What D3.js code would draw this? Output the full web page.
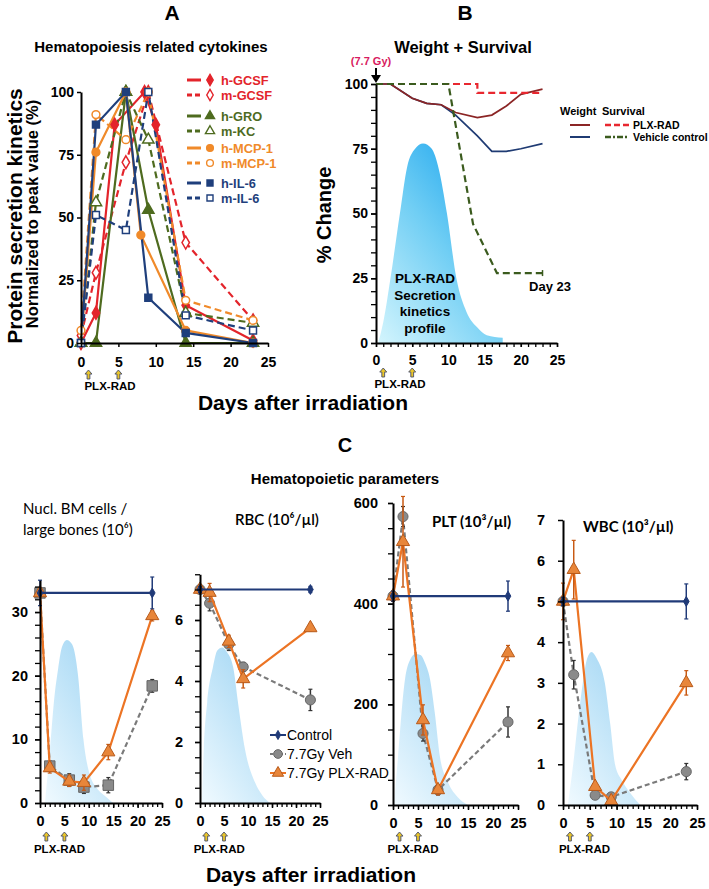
<!DOCTYPE html>
<html><head><meta charset="utf-8">
<script src="https://cdn.jsdelivr.net/npm/d3@7/dist/d3.min.js"></script>
<style>
body{margin:0;background:#fff;}
svg{display:block;}
</style></head>
<body><svg id="chart" width="709" height="889"></svg>
<script>
// ================= DATA =================
// Panel A: cytokine secretion kinetics (% of peak value)
const hGCSFDays=[0,2,4.5,8.5,10,14,23], hGCSFVals=[0,12,87,100,87,15,1];
const mGCSFDays=[0,2,6,9,14,23],        mGCSFVals=[3,28,72,100,40,9];
const hGRODays=[0,2,6,9,14,23],         hGROVals=[0,0,100,53,0,0];
const mKCDays=[0,2,6,9,14,23],          mKCVals=[0,56,100,81,12,8];
const hMCPDays=[0,2,6,8,14,23],         hMCPVals=[0,76,100,43,5,0];
const mMCPDays=[0,2,6,9,14,23],         mMCPVals=[5,91,81,100,17,9];
const hIL6Days=[0,2,6,9,14,23],         hIL6Vals=[0,87,100,18,4,0];
const mIL6Days=[0,2,6,9,14,23],         mIL6Vals=[0,51,45,100,11,5];
const dayTicks=[0,5,10,15,20,25];
const pctTicks=[0,25,50,75,100];
const doseDaysAB=[1,5];
const doseDaysC=[1.3,5];

// Panel B: weight and survival (% change)
const weightDays=[0,2,5,7,9,11,14,16,18,20,23];
const weightPLX=[100,100,94.5,92.5,92,89,87,88,91.5,96,98];
const weightVeh=[100,100,94.5,92.5,92,88,80,74,74,75,77];
const survPLXDays=[0,14,23], survPLXVals=[100,96.6,96.6];
const survVehDays=[0,10,13.4,16.7,23], survVehVals=[100,100,46,27,27];
const profBDays=[0.3,1,2,3.3,4.3,5.4,6.5,7.7,8.6,9.8,11.1,12.5,14,15.3,17.5];
const profBVals=[0,8,25,50,68,75,77,75,68,50,25,12,6,3,2];

// Panel C: hematopoietic parameters
const bmCtrlDays=[0,23], bmCtrlVals=[33,33], bmCtrlErr=[2,2.5];
const bmVehDays=[0,2,6,9,14,23], bmVehVals=[33,5.8,3.6,2.5,2.8,18.4], bmVehErr=[0.5,0.8,1,1,1.2,1];
const bmPlxDays=[0,2,6,9,14,23], bmPlxVals=[33,5.5,3.4,3.2,8,29.4], bmPlxErr=[0.5,0.8,0.8,1.2,1.2,0.8];
const bmProfDays=[1,2,3,3.7,4.5,5.5,6.5,7,7.8,8.9,10,12,13.5,15];
const bmProfVals=[0,8,17,21,24.5,25.6,25,24,20,10,5,2,1,0];

const rbcCtrlDays=[0,23], rbcCtrlVals=[7,7], rbcCtrlErr=[0.1,0.1];
const rbcVehDays=[0,2,6,9,23], rbcVehVals=[7,6.55,5.2,4.46,3.38], rbcVehErr=[0.1,0.25,0.2,0.15,0.35];
const rbcPlxDays=[0,2,6,9,23], rbcPlxVals=[7,6.9,5.3,4.07,5.74], rbcPlxErr=[0.1,0.3,0.2,0.3,0.1];
const rbcProfDays=[0.4,0.8,1.5,2.7,3.6,4.6,5.6,6.9,8,9.4,11.5,13,14.6];
const rbcProfVals=[0,1.8,3.3,4.46,5,5.1,4.95,4.46,3.2,1.74,0.66,0.25,0];

const pltCtrlDays=[0,23], pltCtrlVals=[415,415], pltCtrlErr=[10,30];
const pltVehDays=[0,2,6,9,23], pltVehVals=[415,573,142,30,165], pltVehErr=[10,20,15,10,30];
const pltPlxDays=[0,2,6,9,23], pltPlxVals=[415,523,169,30,302], pltPlxErr=[10,90,30,10,15];
const pltProfDays=[0.2,1,2.4,3.5,4.5,5.5,6.5,7.4,8.4,9.4,11,13,15];
const pltProfVals=[0,95,250,290,300,298,280,250,180,95,45,15,0];

const wbcCtrlDays=[0,23], wbcCtrlVals=[5,5], wbcCtrlErr=[0.1,0.43];
const wbcVehDays=[0,2,6,9,23], wbcVehVals=[5,3.2,0.24,0.2,0.82], wbcVehErr=[0.1,0.35,0.05,0.05,0.2];
const wbcPlxDays=[0,2,6,9,23], wbcPlxVals=[5,5.78,0.45,0.1,3.0], wbcPlxErr=[0.45,0.72,0.05,0.05,0.3];
const wbcProfDays=[0.9,1.9,3,3.7,4.5,5.3,6.3,7.8,8.8,9.7,11,12.5,14.4];
const wbcProfVals=[0,1,2.3,3,3.6,3.76,3.6,3,2,1,0.6,0.3,0];

// ================= DRAWING =================
const FONT='"Liberation Sans", Arial, sans-serif';
const svg=d3.select("#chart");
const defs=svg.append("defs");
const gB=defs.append("linearGradient").attr("id","gradB").attr("x1",0).attr("y1",1).attr("x2",0.8).attr("y2",0);
gB.append("stop").attr("offset","0%").attr("stop-color","#d4f5fd");
gB.append("stop").attr("offset","55%").attr("stop-color","#70cef4");
gB.append("stop").attr("offset","100%").attr("stop-color","#1aa4ee");
const gC=defs.append("linearGradient").attr("id","gradC").attr("x1",0).attr("y1",1).attr("x2",0.7).attr("y2",0);
gC.append("stop").attr("offset","0%").attr("stop-color","#f0faff");
gC.append("stop").attr("offset","100%").attr("stop-color","#a4d7f4");

function txt(x,y,s,o={}){
  return svg.append("text").attr("x",x).attr("y",y).text(s)
    .attr("font-family",o.family||FONT).attr("font-size",o.size||14)
    .attr("font-weight",o.weight||"bold").attr("fill",o.fill||"#000")
    .attr("text-anchor",o.anchor||"start");
}
function styleAxis(g,fs){
  g.attr("font-family",FONT).attr("font-size",fs).attr("font-weight","bold");
  g.select(".domain").attr("stroke","#000").attr("stroke-width",2);
  g.selectAll(".tick line").attr("stroke","#000").attr("stroke-width",1.5);
  g.selectAll(".tick text").attr("fill","#000");
}
function minorAxis(g,axis){
  g.call(axis); g.select(".domain").remove();
  g.selectAll(".tick text").remove();
  g.selectAll(".tick line").attr("stroke","#000").attr("stroke-width",1.3);
}
function upArrow(cx,top,h,w){
  h=h||9; w=w||7;
  const p=`M${cx},${top} L${cx+w/2},${top+h*0.45} L${cx+w*0.2},${top+h*0.45} L${cx+w*0.2},${top+h} L${cx-w*0.2},${top+h} L${cx-w*0.2},${top+h*0.45} L${cx-w/2},${top+h*0.45} Z`;
  svg.append("path").attr("d",p).attr("fill","#e9c52a").attr("stroke","#4a4f6a").attr("stroke-width",0.9);
}
const zip=(a,b)=>a.map((d,i)=>[d,b[i]]);
const fmtInt=d3.format("d");

// ---------- Panel A ----------
const xA=d3.scaleLinear().domain([0,25]).range([81,268]);
const yA=d3.scaleLinear().domain([0,100]).range([343,92]);
const RED="#e3242b", GRN="#4e6b1f", ORG="#f08a2a", BLU="#1f3f7c";
const seriesA=[
  {name:"h-GCSF",d:hGCSFDays,v:hGCSFVals,c:RED,dash:false,sym:d3.symbolDiamond,fill:true,ly:80},
  {name:"m-GCSF",d:mGCSFDays,v:mGCSFVals,c:RED,dash:true,sym:d3.symbolDiamond,fill:false,ly:95},
  {name:"h-GRO",d:hGRODays,v:hGROVals,c:GRN,dash:false,sym:d3.symbolTriangle,fill:true,ly:116},
  {name:"m-KC",d:mKCDays,v:mKCVals,c:GRN,dash:true,sym:d3.symbolTriangle,fill:false,ly:131},
  {name:"h-MCP-1",d:hMCPDays,v:hMCPVals,c:ORG,dash:false,sym:d3.symbolCircle,fill:true,ly:148},
  {name:"m-MCP-1",d:mMCPDays,v:mMCPVals,c:ORG,dash:true,sym:d3.symbolCircle,fill:false,ly:163},
  {name:"h-IL-6",d:hIL6Days,v:hIL6Vals,c:BLU,dash:false,sym:d3.symbolSquare,fill:true,ly:183},
  {name:"m-IL-6",d:mIL6Days,v:mIL6Vals,c:BLU,dash:true,sym:d3.symbolSquare,fill:false,ly:198}
];
const lineA=d3.line().x(d=>xA(d[0])).y(d=>yA(d[1]));
const gA=svg.append("g");
seriesA.forEach(s=>{
  gA.append("path").attr("d",lineA(zip(s.d,s.v))).attr("fill","none").attr("stroke",s.c)
    .attr("stroke-width",2.2).attr("stroke-dasharray",s.dash?"7,4":null);
});
seriesA.forEach(s=>{
  gA.selectAll(null).data(zip(s.d,s.v)).enter().append("path")
    .attr("d",d3.symbol().type(s.sym).size(s.sym===d3.symbolTriangle?55:48))
    .attr("transform",d=>`translate(${xA(d[0])},${yA(d[1])})`)
    .attr("fill",s.fill?s.c:"#fff").attr("stroke",s.c).attr("stroke-width",1.5);
});
const axAy=svg.append("g").attr("transform","translate(81,0)")
  .call(d3.axisLeft(yA).tickValues(pctTicks).tickSize(4).tickPadding(3).tickSizeOuter(0));
styleAxis(axAy,14);
const axAx=svg.append("g").attr("transform","translate(0,343)")
  .call(d3.axisBottom(xA).tickValues(dayTicks).tickSize(4).tickPadding(10).tickSizeOuter(0));
styleAxis(axAx,14);
// legend A
seriesA.forEach(s=>{
  svg.append("line").attr("x1",187).attr("x2",201).attr("y1",s.ly).attr("y2",s.ly)
    .attr("stroke",s.c).attr("stroke-width",3).attr("stroke-dasharray",s.dash?"5,3":null);
  svg.append("path").attr("d",d3.symbol().type(s.sym).size(36)())
    .attr("transform",`translate(210,${s.ly})`)
    .attr("fill",s.fill?s.c:"#fff").attr("stroke",s.c).attr("stroke-width",1.4);
  txt(221,s.ly+4.5,s.name,{size:12.8,fill:s.c});
});
doseDaysAB.forEach(d=>upArrow(xA(d),370,9,7));
txt(110,390,"PLX-RAD",{size:11.5,anchor:"middle"});
txt(172,20,"A",{size:21,anchor:"middle"});
txt(151,52,"Hematopoiesis related cytokines",{size:15,anchor:"middle"});
svg.append("text").attr("transform","translate(22,216) rotate(-90)").attr("text-anchor","middle")
  .attr("font-family",FONT).attr("font-weight","bold").attr("font-size",21).text("Protein secretion kinetics");
svg.append("text").attr("transform","translate(38,214) rotate(-90)").attr("text-anchor","middle")
  .attr("font-family",FONT).attr("font-weight","bold").attr("font-size",16.5).text("Normalized to peak value (%)");

// ---------- Panel B ----------
const xB=d3.scaleLinear().domain([0,25]).range([376,557]);
const yB=d3.scaleLinear().domain([0,100]).range([343,84]);
svg.append("path").attr("d",d3.area().x(d=>xB(d[0])).y0(yB(0)).y1(d=>yB(d[1])).curve(d3.curveMonotoneX)(zip(profBDays,profBVals)))
  .attr("fill","url(#gradB)");
const lineB=d3.line().x(d=>xB(d[0])).y(d=>yB(d[1]));
svg.append("path").attr("d",lineB(zip(weightDays,weightVeh))).attr("fill","none").attr("stroke","#1f3b73").attr("stroke-width",1.7);
svg.append("path").attr("d",lineB(zip(weightDays,weightPLX))).attr("fill","none").attr("stroke","#8b2525").attr("stroke-width",1.7);
svg.append("path").attr("d",lineB.curve(d3.curveStepAfter)(zip(survPLXDays,survPLXVals))).attr("fill","none")
  .attr("stroke","#e8272f").attr("stroke-width",2.2).attr("stroke-dasharray","7,4");
lineB.curve(d3.curveLinear);
svg.append("path").attr("d",lineB(zip(survVehDays,survVehVals))).attr("fill","none")
  .attr("stroke","#3b5b1e").attr("stroke-width",2.2).attr("stroke-dasharray","7,4");
svg.append("line").attr("x1",xB(23)).attr("x2",xB(23)).attr("y1",yB(27)-3).attr("y2",yB(27)+3).attr("stroke","#3b5b1e").attr("stroke-width",1.5);
const axByMin=svg.append("g").attr("transform","translate(376,0)");
minorAxis(axByMin,d3.axisLeft(yB).tickValues(d3.range(0,101,5)).tickSize(5).tickSizeOuter(0));
const axBy=svg.append("g").attr("transform","translate(376,0)")
  .call(d3.axisLeft(yB).tickValues(pctTicks).tickSize(5).tickPadding(3).tickSizeOuter(0));
styleAxis(axBy,14);
const axBxMin=svg.append("g").attr("transform","translate(0,343)");
minorAxis(axBxMin,d3.axisBottom(xB).tickValues(d3.range(0,26,1)).tickSize(4).tickSizeOuter(0));
const axBx=svg.append("g").attr("transform","translate(0,343)")
  .call(d3.axisBottom(xB).tickValues(dayTicks).tickSize(4).tickPadding(8).tickSizeOuter(0));
styleAxis(axBx,14);
doseDaysAB.forEach(d=>upArrow(xB(d),368,9,7));
txt(400,388,"PLX-RAD",{size:11.5,anchor:"middle"});
txt(465,20,"B",{size:21,anchor:"middle"});
txt(463,53,"Weight + Survival",{size:16.5,anchor:"middle"});
txt(371,65,"(7.7 Gy)",{size:11,anchor:"middle",fill:"#d81b60"});
svg.append("line").attr("x1",376).attr("x2",376).attr("y1",68).attr("y2",76).attr("stroke","#000").attr("stroke-width",2);
svg.append("path").attr("d","M371,75 L381,75 L376,83 Z").attr("fill","#000");
svg.append("text").attr("transform","translate(331,215) rotate(-90)").attr("text-anchor","middle")
  .attr("font-family",FONT).attr("font-weight","bold").attr("font-size",20).text("% Change");
["PLX-RAD","Secretion","kinetics","profile"].forEach((s,i)=>txt(425,283+i*16.5,s,{size:13.5,anchor:"middle"}));
txt(550,291,"Day 23",{size:13,anchor:"middle"});
// legend B
txt(560,115,"Weight",{size:11});
txt(602,115,"Survival",{size:11});
svg.append("line").attr("x1",570).attr("x2",590).attr("y1",125).attr("y2",125).attr("stroke","#8b2525").attr("stroke-width",2);
svg.append("line").attr("x1",605).attr("x2",629).attr("y1",125).attr("y2",125).attr("stroke","#e8272f").attr("stroke-width",2.5).attr("stroke-dasharray","6,3");
txt(633,129,"PLX-RAD",{size:10.5});
svg.append("line").attr("x1",570).attr("x2",590).attr("y1",137).attr("y2",137).attr("stroke","#1f3b73").attr("stroke-width",2);
svg.append("line").attr("x1",605).attr("x2",629).attr("y1",137).attr("y2",137).attr("stroke","#3b5b1e").attr("stroke-width",2.5).attr("stroke-dasharray","6,2,2,2");
txt(633,141,"Vehicle control",{size:10.5});
txt(303,410,"Days after irradiation",{size:21,anchor:"middle"});

// ---------- Panel C ----------
const CTRL="#203a78", VEH="#8a8a8a", PLX="#ec7424";
function cPanel(cfg){
  const x=d3.scaleLinear().domain([0,25]).range([cfg.x0,cfg.x1]);
  const y=d3.scaleLinear().domain([0,cfg.top]).range([cfg.y0,cfg.yTop]);
  const g=svg.append("g");
  g.append("path").attr("d",d3.area().x(d=>x(d[0])).y0(y(0)).y1(d=>y(d[1])).curve(d3.curveMonotoneX)(zip(cfg.profD,cfg.profV)))
    .attr("fill","url(#gradC)");
  const line=d3.line().x(d=>x(d[0])).y(d=>y(d[1]));
  function series(days,vals,errs,col,errCol,dash,sym,size,fill,stroke){
    g.append("path").attr("d",line(zip(days,vals))).attr("fill","none").attr("stroke",col)
      .attr("stroke-width",2.2).attr("stroke-dasharray",dash?"5,3":null);
    days.forEach((d,i)=>{
      const cx=x(d), y1=y(Math.max(0,vals[i]-errs[i])), y2=y(vals[i]+errs[i]);
      g.append("line").attr("x1",cx).attr("x2",cx).attr("y1",y1).attr("y2",y2).attr("stroke",errCol).attr("stroke-width",1.5);
      g.append("line").attr("x1",cx-2).attr("x2",cx+2).attr("y1",y1).attr("y2",y1).attr("stroke",errCol).attr("stroke-width",1.2);
      g.append("line").attr("x1",cx-2).attr("x2",cx+2).attr("y1",y2).attr("y2",y2).attr("stroke",errCol).attr("stroke-width",1.2);
    });
    g.selectAll(null).data(zip(days,vals)).enter().append("path")
      .attr("d",d3.symbol().type(sym).size(size))
      .attr("transform",d=>`translate(${x(d[0])},${y(d[1])})`)
      .attr("fill",fill).attr("stroke",stroke).attr("stroke-width",1);
  }
  series(cfg.vD,cfg.vV,cfg.vE,"#7a7a7a","#333",true,cfg.vehSym,cfg.vehSym===d3.symbolSquare?110:80,VEH,"#666");
  series(cfg.pD,cfg.pV,cfg.pE,PLX,"#c85a14",false,d3.symbolTriangle,75,"#e8863a","#b85a1a");
  series(cfg.cD,cfg.cV,cfg.cE,CTRL,CTRL,false,d3.symbolDiamond,28,CTRL,CTRL);
  if(cfg.minorY){
    const mg=svg.append("g").attr("transform",`translate(${cfg.x0},0)`);
    minorAxis(mg,d3.axisLeft(y).tickValues(d3.range(0,cfg.top+1e-9,cfg.minorY)).tickSize(5).tickSizeOuter(0));
  }
  const ay=svg.append("g").attr("transform",`translate(${cfg.x0},0)`)
    .call(d3.axisLeft(y).tickValues(cfg.yTicks).tickFormat(fmtInt).tickSize(5).tickPadding(cfg.pad).tickSizeOuter(0));
  styleAxis(ay,14.5);
  const mx=svg.append("g").attr("transform",`translate(0,${cfg.y0})`);
  minorAxis(mx,d3.axisBottom(x).tickValues(d3.range(0,26,1)).tickSize(4).tickSizeOuter(0));
  const ax=svg.append("g").attr("transform",`translate(0,${cfg.y0})`)
    .call(d3.axisBottom(x).tickValues(dayTicks).tickFormat(fmtInt).tickSize(5).tickPadding(8).tickSizeOuter(0));
  styleAxis(ax,14.5);
  doseDaysC.forEach(d=>upArrow(x(d),832,9,7));
  txt(x(4),853,"PLX-RAD",{size:11.5,anchor:"middle"});
}
cPanel({x0:40,x1:162,y0:803,top:35,yTop:580.2,yTicks:[0,10,20,30],minorY:2,pad:7,
  profD:bmProfDays,profV:bmProfVals,cD:bmCtrlDays,cV:bmCtrlVals,cE:bmCtrlErr,
  vD:bmVehDays,vV:bmVehVals,vE:bmVehErr,pD:bmPlxDays,pV:bmPlxVals,pE:bmPlxErr,vehSym:d3.symbolSquare});
cPanel({x0:200,x1:320,y0:803,top:7.5,yTop:574.25,yTicks:[0,2,4,6],minorY:0.5,pad:12,
  profD:rbcProfDays,profV:rbcProfVals,cD:rbcCtrlDays,cV:rbcCtrlVals,cE:rbcCtrlErr,
  vD:rbcVehDays,vV:rbcVehVals,vE:rbcVehErr,pD:rbcPlxDays,pV:rbcPlxVals,pE:rbcPlxErr,vehSym:d3.symbolCircle});
cPanel({x0:393,x1:518,y0:805,top:600,yTop:503,yTicks:[0,200,400,600],minorY:50,pad:10,
  profD:pltProfDays,profV:pltProfVals,cD:pltCtrlDays,cV:pltCtrlVals,cE:pltCtrlErr,
  vD:pltVehDays,vV:pltVehVals,vE:pltVehErr,pD:pltPlxDays,pV:pltPlxVals,pE:pltPlxErr,vehSym:d3.symbolCircle});
cPanel({x0:563,x1:697,y0:805,top:7,yTop:520,yTicks:[0,1,2,3,4,5,6,7],minorY:0,pad:13,
  profD:wbcProfDays,profV:wbcProfVals,cD:wbcCtrlDays,cV:wbcCtrlVals,cE:wbcCtrlErr,
  vD:wbcVehDays,vV:wbcVehVals,vE:wbcVehErr,pD:wbcPlxDays,pV:wbcPlxVals,pE:wbcPlxErr,vehSym:d3.symbolCircle});

txt(345,452,"C",{size:20,anchor:"middle"});
txt(345,484,"Hematopoietic parameters",{size:15,anchor:"middle"});
const LATO='Lato, "Open Sans", sans-serif';
txt(23,514,"Nucl. BM cells /",{size:15,weight:"normal",family:LATO});
txt(23,535,"large bones (10⁶)",{size:15,weight:"normal",family:LATO});
txt(235,525,"RBC  (10⁶/µl)",{size:15,weight:"600",family:LATO});
txt(432,527,"PLT (10³/µl)",{size:15,weight:"bold",family:LATO});
txt(583,532,"WBC (10³/µl)",{size:15,weight:"bold",family:LATO});
// legend C
const legC=[
  {label:"Control",col:CTRL,dash:false,sym:d3.symbolDiamond,size:24,fill:CTRL,stroke:CTRL,y:735},
  {label:"7.7Gy Veh",col:"#7a7a7a",dash:true,sym:d3.symbolCircle,size:60,fill:VEH,stroke:"#666",y:754},
  {label:"7.7Gy PLX-RAD",col:PLX,dash:false,sym:d3.symbolTriangle,size:55,fill:"#e8863a",stroke:"#b85a1a",y:773}
];
legC.forEach(l=>{
  svg.append("line").attr("x1",270).attr("x2",286).attr("y1",l.y).attr("y2",l.y).attr("stroke",l.col).attr("stroke-width",2).attr("stroke-dasharray",l.dash?"3,2":null);
  svg.append("path").attr("d",d3.symbol().type(l.sym).size(l.size)()).attr("transform",`translate(278,${l.y})`).attr("fill",l.fill).attr("stroke",l.stroke);
  txt(287,l.y+5,l.label,{size:14,weight:"normal"});
});
txt(311,882,"Days after irradiation",{size:21,anchor:"middle"});
</script></body></html>
